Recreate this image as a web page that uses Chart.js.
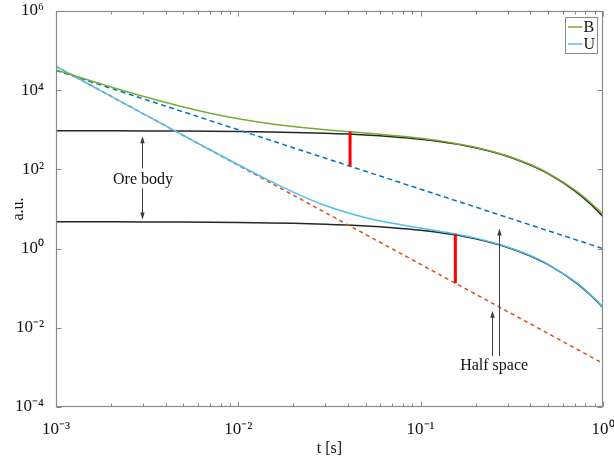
<!DOCTYPE html>
<html><head><meta charset="utf-8">
<script src="https://cdn.jsdelivr.net/npm/chart.js@4"></script>
<style>html,body{margin:0;padding:0;background:#fff}</style>
</head><body>
<canvas id="c" width="614" height="460" style="width:614px;height:460px;display:block"></canvas>
<script>
// ---- data ----
const tValues   = [0.001,0.0015,0.002,0.003,0.005,0.007,0.01,0.015,0.02,0.03,0.05,0.07,0.1,0.15,0.2,0.3,0.4,0.5,0.7,0.85,1.0];
const bTotal    = [32545,18143,12110,7016,3757,2623,1904,1425,1213,1010,829,723,608,466,361,218,132.6,80.8,30.4,14.8,7.4];
const uTotal    = [40005,14525,7076,2571,721,313,131.1,50.4,26.7,12.24,6.00,4.36,3.31,2.41,1.84,1.097,0.663,0.401,0.148,0.0704,0.0336];
const bHalf     = [31600,17200,11170,6080,2830,1706,1000,544,353,192,89.4,54.0,31.6,17.2,11.2,6.08,3.95,2.83,1.71,1.28,1.0];
const uHalf     = [40000,14520,7071,2566,716,308,126.5,45.9,22.4,8.11,2.26,0.976,0.400,0.145,0.0707,0.0257,0.0125,0.00716,0.00309,0.00190,0.00126];
const bOre      = [945.3,942.9,940.5,935.9,926.5,917.3,903.7,881.4,859.6,817.7,739.9,669.5,576.2,448.8,349.5,212.0,128.6,78.0,28.7,13.55,6.40];
const uOre      = [4.776,4.764,4.752,4.729,4.681,4.635,4.566,4.453,4.343,4.131,3.738,3.383,2.911,2.267,1.766,1.071,0.650,0.394,0.145,0.0685,0.0323];
const markerT      = [0.041, 0.155];
const markerTop    = [894, 2.35];
const markerBottom = [120, 0.134];
const xTickValues = [0.001, 0.01, 0.1, 1];
const yTickValues = [1e-4, 1e-2, 1, 1e2, 1e4, 1e6];
const legendLabels = ['B', 'U'];
// annotations (data coordinates)
const oreArrow = {t: 0.00297, top: 690, bottom: 5.4, labelT: 0.003, labelV: 56, text: 'Ore body'};
const halfArrows = [{t: 0.247, from: 0.00195, to: 0.027}, {t: 0.268, from: 0.00195, to: 3.2}];
const halfLabel = {t: 0.253, v: 0.0011, text: 'Half space'};

const SERIF = '"Liberation Serif", "Times New Roman", serif';
const sup = {'-':'⁻','0':'⁰','1':'¹','2':'²','3':'³','4':'⁴','5':'⁵','6':'⁶','7':'⁷','8':'⁸','9':'⁹'};
function powLabel(v){
  const e = Math.round(Math.log10(v));
  return '10' + String(e).split('').map(c => sup[c]).join('');
}
const pts = arr => tValues.map((t,i) => ({x: t, y: arr[i]}));
const bar = i => [{x: markerT[i], y: markerTop[i]}, {x: markerT[i], y: markerBottom[i]}];

const GREEN = '#77AC30', CYAN = '#4DBEEE', BLUE = '#0072BD', ORANGE = '#D95319';

const base = {pointRadius: 0, borderWidth: 1.5, fill: false, cubicInterpolationMode: 'monotone'};
const datasets = [
  {...base, label: 'B', data: pts(bTotal), borderColor: GREEN, order: 2},
  {...base, label: 'U', data: pts(uTotal), borderColor: CYAN, order: 2},
  {...base, label: 'B half space', data: pts(bHalf), borderColor: BLUE, borderDash: [5, 3.5], order: 3},
  {...base, label: 'U half space', data: pts(uHalf), borderColor: ORANGE, borderDash: [4, 3.5], order: 3},
  {...base, label: 'B ore body', data: pts(bOre), borderColor: '#262626', order: 4},
  {...base, label: 'U ore body', data: pts(uOre), borderColor: '#262626', order: 4},
  {...base, label: 'ΔB', data: bar(0), borderColor: '#FF0000', borderWidth: 3, order: 0},
  {...base, label: 'ΔU', data: bar(1), borderColor: '#FF0000', borderWidth: 3, order: 0},
];

function arrowHead(ctx, x, y, dir){ // dir -1: pointing up, 1: pointing down
  ctx.beginPath();
  ctx.moveTo(x, y);
  ctx.lineTo(x - 2.2, y - dir * 7);
  ctx.lineTo(x + 2.2, y - dir * 7);
  ctx.closePath();
  ctx.fill();
}
function seg(ctx, x1, y1, x2, y2){
  ctx.beginPath(); ctx.moveTo(x1, y1); ctx.lineTo(x2, y2); ctx.stroke();
}

const decor = {
  id: 'decor',
  afterDatasetsDraw(chart){
    const {ctx, scales: {x, y}} = chart;
    ctx.save();
    ctx.strokeStyle = '#3a3a3a'; ctx.fillStyle = '#3a3a3a'; ctx.lineWidth = 1;
    const ox = Math.round(x.getPixelForValue(oreArrow.t)) + 0.5;
    const oTop = y.getPixelForValue(oreArrow.top), oBot = y.getPixelForValue(oreArrow.bottom);
    const oTxt = y.getPixelForValue(oreArrow.labelV);
    seg(ctx, ox, oTop + 5, ox, oTxt - 11);
    seg(ctx, ox, oTxt + 9, ox, oBot - 5);
    arrowHead(ctx, ox, oTop, -1);
    arrowHead(ctx, ox, oBot, 1);
    halfArrows.forEach(a => {
      const ax = Math.round(x.getPixelForValue(a.t)) + 0.5;
      const y0 = y.getPixelForValue(a.from), y1 = y.getPixelForValue(a.to);
      seg(ctx, ax, y0, ax, y1 + 5);
      arrowHead(ctx, ax, y1, -1);
    });
    ctx.fillStyle = '#111';
    ctx.font = '16px ' + SERIF;
    ctx.textAlign = 'center'; ctx.textBaseline = 'middle';
    ctx.fillText(oreArrow.text, x.getPixelForValue(oreArrow.labelT), oTxt);
    ctx.fillText(halfLabel.text, x.getPixelForValue(halfLabel.t), y.getPixelForValue(halfLabel.v));
    ctx.restore();
  },
  afterDraw(chart){
    const {ctx, chartArea: a, scales: {x, y}} = chart;
    ctx.save();
    ctx.strokeStyle = '#8a8a8a'; ctx.lineWidth = 1.2;
    const L = Math.round(a.left) + 0.5, R = Math.round(a.right) - 0.5, T = Math.round(a.top) + 0.5, B = Math.round(a.bottom) - 0.5;
    ctx.strokeRect(L, T, R - L, B - T);
    ctx.lineWidth = 1;
    yTickValues.forEach(v => {
      const py = Math.round(y.getPixelForValue(v)) + 0.5;
      seg(ctx, L, py, L + 5, py);
      seg(ctx, R, py, R - 5, py);
    });
    for (let d = -3; d <= 0; d++) {
      for (let m = 1; m <= 9; m++) {
        const v = m * Math.pow(10, d);
        if (v > 1.0001) break;
        const px = Math.round(x.getPixelForValue(v)) + 0.5;
        const len = m === 1 ? 5 : 3;
        seg(ctx, px, B, px, B - len);
        seg(ctx, px, T, px, T + len);
      }
    }
    const lw = 32, lh = 36;
    const lx = Math.round(a.right) - 37.5, ly = Math.round(a.top) + 6.5;
    ctx.fillStyle = '#fff';
    ctx.fillRect(lx, ly, lw, lh);
    ctx.strokeStyle = '#8a8a8a';
    ctx.strokeRect(lx, ly, lw, lh);
    const cols = [GREEN, CYAN];
    ctx.font = '16px ' + SERIF;
    ctx.textAlign = 'left'; ctx.textBaseline = 'middle';
    legendLabels.forEach((lab, i) => {
      const yy = ly + 9.5 + i * 17;
      ctx.strokeStyle = cols[i]; ctx.lineWidth = 1.5;
      seg(ctx, lx + 2.5, yy, lx + 17, yy);
      ctx.fillStyle = '#111';
      ctx.fillText(lab, lx + 18, yy + 0.5);
    });
    ctx.restore();
  }
};

new Chart(document.getElementById('c'), {
  type: 'line',
  data: {datasets},
  options: {
    responsive: false,
    devicePixelRatio: 1,
    animation: false,
    layout: {padding: {top: 11, right: 11, left: 0, bottom: 0}},
    plugins: {legend: {display: false}, tooltip: {enabled: false}},
    scales: {
      x: {
        type: 'logarithmic', min: 0.001, max: 1, position: 'bottom',
        afterBuildTicks: s => { s.ticks = xTickValues.map(v => ({value: v, major: true})); },
        afterFit: s => { s.height = 53; s.paddingLeft = 0; s.paddingRight = 0; },
        grid: {display: false}, border: {display: false},
        ticks: {callback: v => powLabel(v), font: {family: SERIF, size: 17}, color: '#111', maxRotation: 0, autoSkip: false, padding: 4},
        title: {display: true, text: 't [s]', font: {family: SERIF, size: 16}, color: '#111', padding: {top: 0, bottom: 2}}
      },
      y: {
        type: 'logarithmic', min: 1e-4, max: 1e6,
        afterBuildTicks: s => { s.ticks = yTickValues.map(v => ({value: v, major: true})); },
        afterFit: s => { s.width = 56; s.paddingTop = 0; s.paddingBottom = 0; },
        grid: {display: false}, border: {display: false},
        ticks: {callback: v => powLabel(v), font: {family: SERIF, size: 17}, color: '#111', autoSkip: false, padding: 4},
        title: {display: true, text: 'a.u.', font: {family: SERIF, size: 16}, color: '#111', padding: {top: 9, bottom: 0}}
      }
    }
  },
  plugins: [decor]
});
</script>
</body></html>
